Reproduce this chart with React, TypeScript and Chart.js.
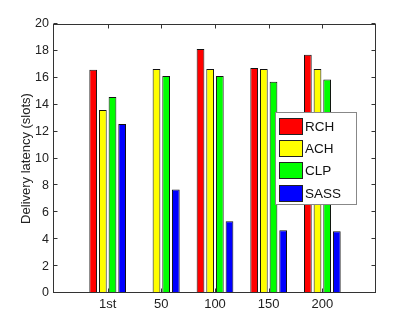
import React, { useEffect, useRef } from "react";
import { Chart, registerables } from "chart.js";

Chart.register(...registerables);

const categories = ["", "1st", "50", "100", "150", "200", ""];
const seriesNames = ["RCH", "ACH", "CLP", "SASS"];
const seriesColors = ["#ff0000", "#ffff00", "#00ff00", "#0000ff"];
const rch = [null, 16.6, null, 18.15, 16.73, 17.72, null];
const ach = [null, 13.6, 16.66, 16.66, 16.66, 16.66, null];
const clp = [null, 14.57, 16.13, 16.13, 15.7, 15.88, null];
const sass = [null, 12.57, 7.7, 5.34, 4.66, 4.59, null];
const yTicks = [0, 2, 4, 6, 8, 10, 12, 14, 16, 18, 20];

const FONT = "'Liberation Sans', Arial, Helvetica, sans-serif";

const boxPlugin = {
  id: "matlabBox",
  afterDraw(chart: any) {
    const { ctx, chartArea: a, scales } = chart;
    const xs = scales.x;
    const ys = scales.y;
    ctx.save();
    ctx.strokeStyle = "#333";
    ctx.lineWidth = 1;
    const L = Math.round(a.left) - 0.5;
    const R = Math.round(a.right) - 0.5;
    const T = Math.round(a.top) + 0.5;
    const B = Math.round(a.bottom) - 0.5;
    ctx.strokeRect(L, T, R - L, B - T);
    const tl = 4;
    ctx.beginPath();
    yTicks.forEach((v) => {
      const y = Math.round(ys.getPixelForValue(v)) - 0.5;
      ctx.moveTo(L, y);
      ctx.lineTo(L + tl, y);
      ctx.moveTo(R, y);
      ctx.lineTo(R - tl, y);
    });
    categories.forEach((c, i) => {
      if (!c) return;
      const x = Math.round(xs.getPixelForValue(i)) + 0.5;
      ctx.moveTo(x, T);
      ctx.lineTo(x, T + tl);
      ctx.moveTo(x, B);
      ctx.lineTo(x, B - tl);
    });
    ctx.stroke();

    // legend
    const lx = 275.5, ly = 112.5, lw = 81, lh = 92;
    ctx.fillStyle = "#fff";
    ctx.fillRect(lx, ly, lw, lh);
    ctx.strokeStyle = "#888";
    ctx.strokeRect(lx, ly, lw, lh);
    ctx.font = `13.5px ${FONT}`;
    ctx.textBaseline = "middle";
    ctx.textAlign = "left";
    chart.data.datasets.forEach((ds: any, i: number) => {
      const sy = 117.5 + i * 22.4;
      ctx.fillStyle = ds.backgroundColor;
      ctx.fillRect(279.5, Math.round(sy) + 0.5, 23, 16);
      ctx.strokeStyle = "#222";
      ctx.strokeRect(279.5, Math.round(sy) + 0.5, 23, 16);
      ctx.fillStyle = "#111";
      ctx.fillText(ds.label, 305, Math.round(sy) + 9);
    });
    ctx.restore();
  },
};

export default function App() {
  const ref = useRef<HTMLCanvasElement>(null);
  useEffect(() => {
    const values = [rch, ach, clp, sass];
    const chart = new Chart(ref.current!, {
      type: "bar",
      data: {
        labels: categories,
        datasets: seriesNames.map((n, i) => ({
          label: n,
          data: values[i] as any,
          backgroundColor: seriesColors[i],
          borderColor: "#111",
          borderWidth: 1,
          categoryPercentage: 0.72,
          barPercentage: 0.8,
        })),
      },
      options: {
        animation: false,
        responsive: false,
        maintainAspectRatio: false,
        layout: { padding: { top: 24, right: 39, left: 0, bottom: 0 } },
        plugins: { legend: { display: false }, tooltip: { enabled: false } },
        scales: {
          x: {
            offset: false,
            grid: { display: false, drawTicks: false },
            border: { display: false },
            ticks: {
              color: "#222",
              font: { family: FONT, size: 13 },
              padding: 4,
              autoSkip: false,
              maxRotation: 0,
            },
            afterFit: (s: any) => {
              s.height = 36;
            },
          },
          y: {
            min: 0,
            max: 20,
            grid: { display: false, drawTicks: false },
            border: { display: false },
            ticks: {
              stepSize: 2,
              color: "#222",
              font: { family: FONT, size: 12.5 },
              padding: 5,
            },
            title: {
              display: true,
              text: "Delivery latency (slots)",
              color: "#222",
              font: { family: FONT, size: 13 },
              padding: { top: 19, bottom: 0 },
            },
            afterFit: (s: any) => {
              s.width = 54;
            },
          },
        },
      },
      plugins: [boxPlugin],
    });
    return () => chart.destroy();
  }, []);
  return (
    <div style={{ position: "fixed", left: 0, top: 0, width: 415, height: 329, background: "#fff" }}>
      <canvas ref={ref} width={415} height={329} style={{ width: 415, height: 329 }} />
    </div>
  );
}
